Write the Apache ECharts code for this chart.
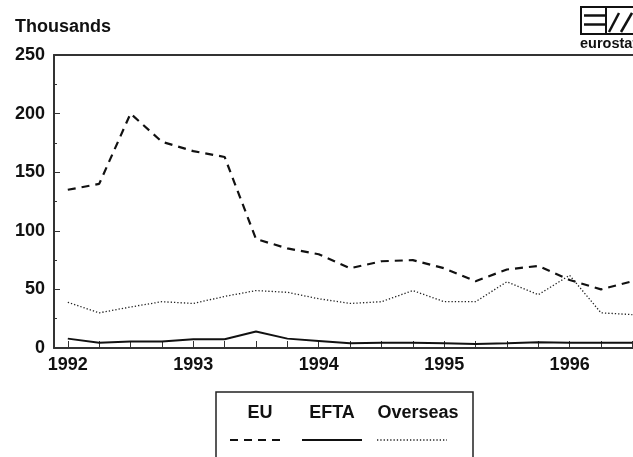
<!DOCTYPE html>
<html>
<head>
<meta charset="utf-8">
<script src="https://cdn.jsdelivr.net/npm/echarts@6/dist/echarts.min.js"></script>
<style>
  html, body { margin: 0; padding: 0; background: #fff; }
  #chart { width: 633px; height: 457px; }
</style>
</head>
<body>
<div id="chart"></div>
<script>
  // quarterly figures, thousands
  var quarters = ['1992 Q1', '1992 Q2', '1992 Q3', '1992 Q4',
                  '1993 Q1', '1993 Q2', '1993 Q3', '1993 Q4',
                  '1994 Q1', '1994 Q2', '1994 Q3', '1994 Q4',
                  '1995 Q1', '1995 Q2', '1995 Q3', '1995 Q4',
                  '1996 Q1', '1996 Q2', '1996 Q3'];
  var eu =       [135, 140, 200, 176, 168, 163, 93, 85, 80, 68, 74, 75, 68, 57, 67, 70, 58, 50, 57];
  var efta =     [8, 4.5, 5.5, 5.5, 7.5, 7.5, 14, 8, 6, 4, 4.5, 4.5, 4, 3.5, 4, 5, 4.5, 4.5, 4.5];
  var overseas = [39, 30, 35, 39.5, 38, 44, 49, 47.5, 42, 38, 39.5, 49, 39.5, 39.5, 56.5, 45.5, 62, 30, 28.5];
  var yearLabels = [1992, 1993, 1994, 1995, 1996];
  var yTicks = [0, 50, 100, 150, 200, 250];

  // quarter label -> position on the time axis
  function toX(q) {
    var p = q.split(' Q');
    return parseInt(p[0]) + (parseInt(p[1]) - 1) / 4;
  }
  function pairs(vals) {
    return vals.map(function (v, i) { return [toX(quarters[i]), v]; });
  }
  var quarterTicks = quarters.map(toX);

  var ink = '#111';
  var font = 'Liberation Sans, Arial, sans-serif';
  var xMin = 1991.89, xMax = 1996.505;

  var myChart = echarts.init(document.getElementById('chart'));
  var option = {
    animation: false,
    backgroundColor: '#fff',
    grid: {
      left: 54,
      top: 55,
      right: 0,
      bottom: 109
    },
    xAxis: [
      {
        type: 'value',
        min: xMin,
        max: xMax,
        splitLine: {show: false},
        axisLine: {show: true, lineStyle: {color: '#333', width: 2}},
        axisTick: {
          show: true,
          inside: true,
          length: 7,
          customValues: quarterTicks,
          lineStyle: {color: '#333', width: 1}
        },
        axisLabel: {
          customValues: yearLabels,
          formatter: function (v) { return String(Math.round(v)); },
          color: ink,
          fontFamily: font,
          fontWeight: 'bold',
          fontSize: 18,
          margin: 8
        }
      },
      {
        // top frame line
        type: 'value',
        position: 'top',
        min: xMin,
        max: xMax,
        splitLine: {show: false},
        axisLine: {show: true, lineStyle: {color: '#333', width: 2}},
        axisTick: {show: false},
        axisLabel: {show: false}
      }
    ],
    yAxis: {
      type: 'value',
      min: yTicks[0],
      max: yTicks[yTicks.length - 1],
      interval: 50,
      splitLine: {show: false},
      axisLine: {show: true, lineStyle: {color: '#333', width: 2}},
      axisTick: {show: true, inside: true, length: 6, lineStyle: {color: '#333'}},
      minorTick: {show: true, splitNumber: 2, length: 3, lineStyle: {color: '#333'}},
      axisLabel: {
        color: ink,
        fontFamily: font,
        fontWeight: 'bold',
        fontSize: 18,
        margin: 9
      }
    },
    series: [
      {
        name: 'EU',
        type: 'line',
        data: pairs(eu),
        symbol: 'none',
        lineStyle: {color: ink, width: 2.2, type: [8, 6]}
      },
      {
        name: 'EFTA',
        type: 'line',
        data: pairs(efta),
        symbol: 'none',
        lineStyle: {color: ink, width: 2}
      },
      {
        name: 'Overseas',
        type: 'line',
        data: pairs(overseas),
        symbol: 'none',
        lineStyle: {color: '#222', width: 1.3, type: [1.3, 2]}
      }
    ],
    graphic: [
      {
        type: 'text', left: 15, top: 18,
        style: {text: 'Thousands', fill: ink, font: 'bold 18px ' + font}
      },
      // logo
      {
        type: 'rect', shape: {x: 581, y: 7, width: 60, height: 27},
        style: {fill: 'none', stroke: ink, lineWidth: 2}
      },
      {
        type: 'line', shape: {x1: 584, y1: 15.5, x2: 605, y2: 15.5},
        style: {stroke: ink, lineWidth: 2.5}
      },
      {
        type: 'line', shape: {x1: 584, y1: 24.5, x2: 605, y2: 24.5},
        style: {stroke: ink, lineWidth: 2.5}
      },
      {
        type: 'line', shape: {x1: 606, y1: 8, x2: 606, y2: 33},
        style: {stroke: ink, lineWidth: 2}
      },
      {
        type: 'line', shape: {x1: 609, y1: 32, x2: 619, y2: 13},
        style: {stroke: ink, lineWidth: 2.5}
      },
      {
        type: 'line', shape: {x1: 621, y1: 32, x2: 632, y2: 13},
        style: {stroke: ink, lineWidth: 2.5}
      },
      {
        type: 'text', left: 580, top: 36,
        style: {text: 'eurostat', fill: ink, font: 'bold 14.5px ' + font}
      },
      // legend box
      {
        type: 'rect', shape: {x: 216, y: 392, width: 257, height: 80},
        style: {fill: 'none', stroke: '#222', lineWidth: 1.5}
      },
      {
        type: 'text', x: 260, y: 413,
        style: {text: 'EU', fill: ink, font: 'bold 18px ' + font, align: 'center', verticalAlign: 'middle'}
      },
      {
        type: 'text', x: 332, y: 413,
        style: {text: 'EFTA', fill: ink, font: 'bold 18px ' + font, align: 'center', verticalAlign: 'middle'}
      },
      {
        type: 'text', x: 418, y: 413,
        style: {text: 'Overseas', fill: ink, font: 'bold 18px ' + font, align: 'center', verticalAlign: 'middle'}
      },
      {
        type: 'line', shape: {x1: 230, y1: 440, x2: 284, y2: 440},
        style: {stroke: ink, lineWidth: 2.2, lineDash: [8, 6]}
      },
      {
        type: 'line', shape: {x1: 302, y1: 440, x2: 362, y2: 440},
        style: {stroke: ink, lineWidth: 2}
      },
      {
        type: 'line', shape: {x1: 377, y1: 440, x2: 447, y2: 440},
        style: {stroke: '#222', lineWidth: 1.3, lineDash: [1.3, 2]}
      }
    ]
  };
  myChart.setOption(option);
</script>
</body>
</html>
